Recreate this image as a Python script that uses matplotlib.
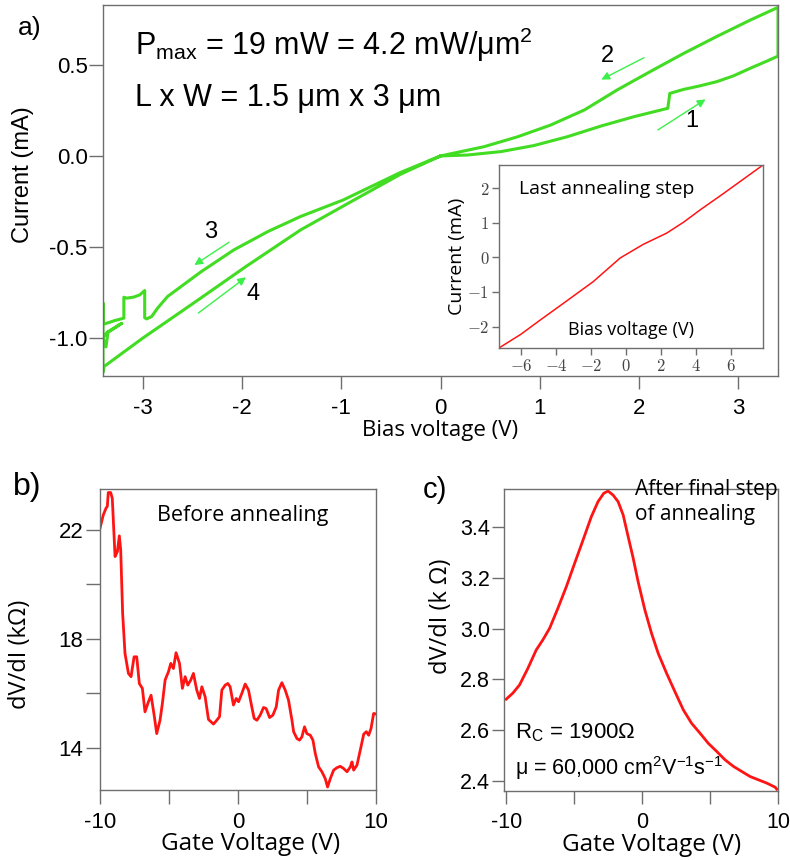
import numpy as np
import matplotlib
matplotlib.use('Agg')
from matplotlib import pyplot as plt

plt.rcParams['font.family'] = ['Liberation Sans', 'DejaVu Sans']
plt.rcParams['mathtext.fontset'] = 'custom'
plt.rcParams['mathtext.rm'] = 'Liberation Sans'
plt.rcParams['mathtext.it'] = 'Liberation Sans:italic'
plt.rcParams['axes.unicode_minus'] = False

# a) I-V sweep during annealing (path 1 -> 2 -> 3 -> 4)
sweep_v = [0.0, 0.27, 0.61, 0.94, 1.28, 1.62, 1.95, 2.29, 2.31, 2.45, 2.61, 2.78, 2.95, 3.12, 3.29, 3.40,
           3.40, 3.12, 2.78, 2.45, 2.11, 1.78, 1.45, 1.11, 0.78, 0.44, 0.0,
           -0.4, -0.98, -1.41, -1.74, -2.08, -2.41, -2.75, -2.85, -2.91, -2.96, -2.98,
           -2.98, -3.03, -3.09, -3.16, -3.19, -3.19, -3.28, -3.38, -3.40,
           -3.40, -3.40, -3.37, -3.35, -3.21, -3.36, -3.40, -3.40,
           -3.39, -3.0, -2.44, -1.96, -1.41, -0.87, -0.4, 0.0]
sweep_i = [0.0, 0.005, 0.024, 0.057, 0.106, 0.165, 0.216, 0.262, 0.344, 0.366, 0.385, 0.408, 0.44, 0.482, 0.522, 0.549,
           0.817, 0.747, 0.656, 0.564, 0.463, 0.363, 0.253, 0.170, 0.106, 0.051, 0.0,
           -0.09, -0.242, -0.333, -0.416, -0.516, -0.636, -0.773, -0.837, -0.883, -0.896, -0.89,
           -0.74, -0.764, -0.776, -0.782, -0.777, -0.892, -0.905, -0.923, -0.92,
           -0.81, -1.0, -1.05, -0.97, -0.92, -0.97, -1.0, -1.19,
           -1.158, -1.002, -0.791, -0.608, -0.407, -0.242, -0.10, 0.0]

# a) inset, last annealing step
inset_v = [-7.26, -6.0, -4.9, -3.5, -1.87, -0.34, 1.0, 2.32, 3.3, 4.23, 5.5, 7.83]
inset_i = [-2.62, -2.22, -1.81, -1.30, -0.70, -0.02, 0.38, 0.70, 1.02, 1.37, 1.82, 2.67]

# b) before annealing
gate_b = [-10.00, -9.76, -9.56, -9.47, -9.40, -9.23, -9.11, -8.91, -8.74, -8.60, -8.50, -8.36, -8.19, -7.94,
          -7.75, -7.53, -7.34, -7.15, -6.93, -6.74, -6.49, -6.30, -6.06, -5.89, -5.65, -5.48, -5.28, -5.04,
          -4.87, -4.68, -4.49, -4.24, -4.03, -3.83, -3.64, -3.42, -3.23, -2.99, -2.79, -2.62, -2.38, -2.14,
          -1.78, -1.54, -1.34, -1.17, -0.93, -0.74, -0.57, -0.33, -0.13, 0.04, 0.28, 0.52, 0.76, 1.00, 1.17,
          1.37, 1.61, 1.85, 2.04, 2.29, 2.53, 2.77, 2.94, 3.18, 3.42, 3.66, 3.91, 4.03, 4.27, 4.46, 4.63,
          4.82, 4.99, 5.24, 5.43, 5.60, 5.84, 6.08, 6.32, 6.49, 6.69, 6.93, 7.17, 7.41, 7.65, 7.90, 8.14,
          8.26, 8.38, 8.62, 8.86, 9.11, 9.30, 9.47, 9.64, 9.83, 10.00]
res_b = [22.06, 22.55, 22.80, 22.86, 23.37, 23.37, 23.16, 21.02, 21.20, 21.78, 21.26, 18.94, 17.47, 16.73,
         16.61, 17.34, 17.34, 16.36, 16.18, 15.32, 15.69, 15.93, 15.14, 14.52, 15.01, 15.63, 16.49, 16.79,
         17.10, 16.91, 17.49, 17.10, 16.18, 16.61, 16.30, 16.49, 16.73, 16.12, 15.81, 16.24, 15.87, 15.04,
         14.87, 15.01, 15.14, 16.12, 16.30, 16.36, 16.24, 15.57, 15.81, 15.69, 16.00, 16.34, 16.12, 15.50,
         15.08, 15.01, 15.20, 15.48, 15.44, 15.11, 15.20, 15.50, 16.12, 16.39, 16.12, 15.75, 15.01, 14.59,
         14.34, 14.28, 14.40, 14.77, 14.52, 14.46, 14.28, 13.79, 13.30, 13.12, 12.87, 12.56, 12.87, 13.18,
         13.27, 13.32, 13.24, 13.12, 13.30, 13.48, 13.18, 13.36, 13.91, 14.50, 14.59, 14.46, 14.71, 15.26,
         15.24]

# c) after final annealing step
gate_c = [-10.01, -9.52, -9.03, -8.41, -7.80, -7.31, -6.81, -6.20, -5.58, -4.97, -4.35, -3.74, -3.25, -2.83,
          -2.51, -2.14, -1.77, -1.40, -1.03, -0.66, -0.30, 0.20, 0.69, 1.18, 1.80, 2.41, 3.03, 3.64, 4.26,
          4.87, 5.49, 6.10, 6.72, 7.33, 7.95, 8.56, 9.18, 9.79, 9.91]
res_c = [2.722, 2.746, 2.778, 2.844, 2.916, 2.956, 3.002, 3.081, 3.166, 3.258, 3.350, 3.442, 3.501, 3.534,
         3.543, 3.527, 3.501, 3.449, 3.363, 3.278, 3.186, 3.074, 2.982, 2.903, 2.824, 2.752, 2.680, 2.627,
         2.588, 2.548, 2.516, 2.483, 2.457, 2.437, 2.417, 2.404, 2.391, 2.375, 2.367]

W, H = 790, 860
GREEN = '#42dc22'
ARROW = '#3cf04a'
RED = '#ff1414'
SPINE = '#6e6e6e'
LABEL_FONT = ['Open Sans', 'DejaVu Sans']


def box(l, t, r, b):
    return [l / W, 1 - b / H, (r - l) / W, (b - t) / H]


def px(x, y):
    return x / W, 1 - y / H


def style(ax, lw=1.0):
    for s in ax.spines.values():
        s.set_color(SPINE)
        s.set_linewidth(lw)


fig = plt.figure(figsize=(W / 100, H / 100), dpi=100)

# ---- panel a ----
ax = fig.add_axes(box(103, 5, 778, 376))
style(ax)
ax.plot(sweep_v, sweep_i, color=GREEN, lw=2.2, solid_joinstyle='round')
ax.set_xlim(-3.4, 3.4)
ax.set_ylim(-1.21, 0.83)
ax.set_xticks([-3, -2, -1, 0, 1, 2, 3])
ax.set_xticklabels(['-3', '-2', '-1', '0', '1', '2', '3'])
ax.set_yticks([-1.0, -0.5, 0.0, 0.5])
ax.set_yticklabels(['-1.0', '-0.5', '0.0', '0.5'])
ax.tick_params(axis='x', length=9, width=1, color=SPINE, pad=7, labelsize=16)
ax.tick_params(axis='y', length=10, width=1, color=SPINE, pad=1, labelsize=16)
ax.set_xlabel('Bias voltage (V)', fontsize=16, family=LABEL_FONT)
ax.xaxis.set_label_coords(0.499, -0.118)
ax.set_ylabel('Current (mA)', fontsize=17, va='center')
ax.yaxis.set_label_coords(-0.118, 0.542)

arrows = [((2.19, 0.143), (2.67, 0.311)), ((2.05, 0.54), (1.62, 0.42)),
          ((-2.13, -0.474), (-2.48, -0.60)), ((-2.44, -0.864), (-1.96, -0.667))]
for (x0, y0), (x1, y1) in arrows:
    ax.annotate('', xy=(x1, y1), xytext=(x0, y0),
                arrowprops=dict(arrowstyle='-|>', color=ARROW, lw=1.0, mutation_scale=12, shrinkA=0, shrinkB=0))
for txt, (x, y) in zip(['1', '2', '3', '4'], [(2.53, 0.19), (1.68, 0.55), (-2.32, -0.42), (-1.89, -0.76)]):
    ax.text(x, y, txt, fontsize=17, ha='center', va='center')

fig.text(*px(135, 55), 'P$_{\\mathrm{max}}$ = 19 mW = 4.2 mW/μm$^{2}$', fontsize=22, va='baseline')
fig.text(*px(135, 106), 'L x W = 1.5 μm x 3 μm', fontsize=22, va='baseline')
fig.text(*px(18, 35), 'a)', fontsize=19, va='baseline')

# inset
axi = fig.add_axes(box(499, 165, 763, 348))
style(axi)
axi.plot(inset_v, inset_i, color=RED, lw=1.1)
axi.set_xlim(-7.26, 7.83)
axi.set_ylim(-2.62, 2.67)
xt = [-6, -4, -2, 0, 2, 4, 6]
yt = [-2, -1, 0, 1, 2]
axi.set_xticks(xt)
axi.set_xticklabels(['$%d$' % v for v in xt])
axi.set_yticks(yt)
axi.set_yticklabels(['$%d$' % v for v in yt])
for lab in axi.get_xticklabels() + axi.get_yticklabels():
    lab.set_math_fontfamily('cm')
axi.tick_params(length=5, width=1, color=SPINE, pad=2, labelsize=12, labelcolor='#444444')
axi.set_ylabel('Current (mA)', fontsize=14, va='center', family=LABEL_FONT)
axi.yaxis.set_label_coords(-0.16, 0.5)
axi.text(0.5, 0.07, 'Bias voltage (V)', transform=axi.transAxes, fontsize=13, ha='center',
         va='baseline', family=LABEL_FONT)
axi.text(0.076, 0.84, 'Last annealing step', transform=axi.transAxes, fontsize=14,
         va='baseline', family=LABEL_FONT)

# ---- panel b ----
axb = fig.add_axes(box(100, 489, 376, 790))
style(axb)
axb.plot(gate_b, res_b, color=RED, lw=2.0)
axb.set_xlim(-10, 10)
axb.set_ylim(12.45, 23.5)
axb.set_xticks([-10, -5, 0, 5, 10])
axb.set_xticklabels(['-10', '', '0', '', '10'])
axb.set_yticks([14, 16, 18, 20, 22])
axb.set_yticklabels(['14', '', '18', '', '22'])
axb.tick_params(length=10, width=1, color=SPINE, labelsize=16)
axb.tick_params(axis='y', pad=2)
axb.tick_params(axis='x', pad=6)
axb.set_xlabel('Gate Voltage (V)', fontsize=17.5, family=LABEL_FONT)
axb.xaxis.set_label_coords(0.547, -0.14)
axb.set_ylabel('dV/dI (kΩ)', fontsize=17, va='center', family=LABEL_FONT)
axb.yaxis.set_label_coords(-0.29, 0.45)
fig.text(*px(157, 521), 'Before annealing', fontsize=15.5, va='baseline', family=LABEL_FONT)
fig.text(*px(13, 495), 'b)', fontsize=23, va='baseline')

# ---- panel c ----
axc = fig.add_axes(box(504, 489, 778, 791))
style(axc)
axc.plot(gate_c, res_c, color=RED, lw=2.0)
axc.set_xlim(-10.17, 10)
axc.set_ylim(2.36, 3.551)
axc.set_xticks([-10, -5, 0, 5, 10])
axc.set_xticklabels(['-10', '', '0', '', '10'])
axc.set_yticks([2.4, 2.6, 2.8, 3.0, 3.2, 3.4])
axc.set_yticklabels(['2.4', '2.6', '2.8', '3.0', '3.2', '3.4'])
axc.tick_params(length=9, width=1, color=SPINE, labelsize=15.5)
axc.tick_params(axis='y', pad=1)
axc.tick_params(axis='x', pad=6)
axc.set_xlabel('Gate Voltage (V)', fontsize=17.5, family=LABEL_FONT)
axc.xaxis.set_label_coords(0.537, -0.14)
axc.set_ylabel('dV/dI (k Ω)', fontsize=17, va='center', family=LABEL_FONT)
axc.yaxis.set_label_coords(-0.23, 0.58)
fig.text(*px(635, 520), 'After final step\nof annealing', fontsize=15, va='baseline',
         family=LABEL_FONT, linespacing=1.25)
fig.text(*px(515, 738), 'R$_{\\mathrm{C}}$ = 1900Ω', fontsize=16, va='baseline')
fig.text(*px(515, 775), 'μ = 60,000 cm$^{2}$V$^{-1}$s$^{-1}$', fontsize=15.5, va='baseline')
fig.text(*px(423, 498), 'c)', fontsize=21, va='baseline')

fig.savefig('out.png', dpi=100)
